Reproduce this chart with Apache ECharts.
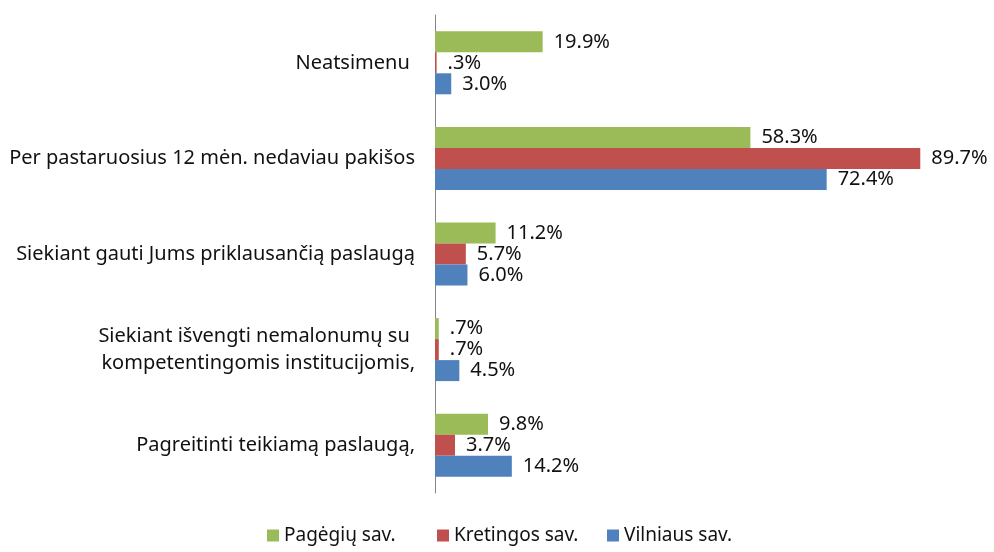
<!DOCTYPE html>
<html>
<head>
<meta charset="utf-8">
<script src="https://cdn.jsdelivr.net/npm/echarts@6/dist/echarts.min.js"></script>
<style>
html, body { margin: 0; padding: 0; background: #fff; }
#chart { width: 994px; height: 552px; }
</style>
</head>
<body>
<div id="chart"></div>
<script>
// kategorijos (iš viršaus į apačią)
var categories = [
    'Neatsimenu ',
    'Per pastaruosius 12 mėn. nedaviau pakišos',
    'Siekiant gauti Jums priklausančią paslaugą',
    'Siekiant išvengti nemalonumų su \nkompetentingomis institucijomis,',
    'Pagreitinti teikiamą paslaugą,'
]
var seriesNames = ['Pagėgių sav.', 'Kretingos sav.', 'Vilniaus sav.']
var pagegiai = [19.9, 58.3, 11.2, 0.7, 9.8]
var kretinga = [0.3, 89.7, 5.7, 0.7, 3.7]
var vilnius = [3.0, 72.4, 6.0, 4.5, 14.2]
var colors = ['#9bbb59', '#c0504d', '#4f81bd']

var fontFam = '"Noto Sans", sans-serif'
var txtColor = '#111111'

function fmt(p) {
    var s = p.value.toFixed(1) + '%'
    if (s.indexOf('0.') == 0) s = s.slice(1)
    return s
}

function makeSeries(name, data, color) {
    return {
        name: name,
        type: 'bar',
        data: data,
        barWidth: 21,
        barGap: '0%',
        itemStyle: { color: color },
        label: {
            show: true,
            position: 'right',
            distance: 11,
            formatter: fmt,
            color: txtColor,
            fontSize: 20,
            fontFamily: fontFam
        }
    }
}

// legenda - kiekvienas įrašas atskirai, kad tarpai būtų vienodi
function makeLegend(name, left) {
    return {
        bottom: 2,
        left: left,
        icon: 'rect',
        itemWidth: 12,
        itemHeight: 12,
        itemGap: 5,
        textStyle: { color: txtColor, fontSize: 19, fontFamily: fontFam },
        data: [name]
    }
}

var chart = echarts.init(document.getElementById('chart'))
var option = {
    animation: false,
    color: colors,
    grid: {
        left: 435,
        right: 18,
        top: 15,
        bottom: 59
    },
    legend: [
        makeLegend(seriesNames[0], 262),
        makeLegend(seriesNames[1], 432),
        makeLegend(seriesNames[2], 602)
    ],
    xAxis: {
        type: 'value',
        min: 0,
        max: 100,
        show: false
    },
    yAxis: {
        type: 'category',
        inverse: true,
        data: categories,
        axisLine: { lineStyle: { color: '#868686' } },
        axisTick: { length: 5, lineStyle: { color: '#868686' } },
        axisLabel: {
            margin: 20,
            color: txtColor,
            fontSize: 20,
            lineHeight: 27,
            fontFamily: fontFam
        },
        splitLine: { show: false }
    },
    series: [
        makeSeries(seriesNames[0], pagegiai, colors[0]),
        makeSeries(seriesNames[1], kretinga, colors[1]),
        makeSeries(seriesNames[2], vilnius, colors[2])
    ]
}
chart.setOption(option)
</script>
</body>
</html>
